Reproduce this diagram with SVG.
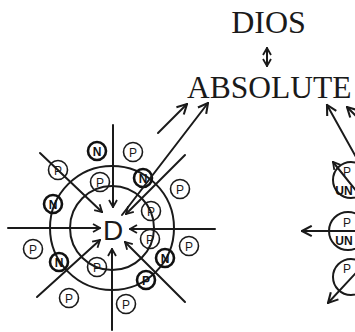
<svg xmlns="http://www.w3.org/2000/svg" width="355" height="332" viewBox="0 0 355 332">
<style>
.ln{stroke:#1a1a1a;stroke-width:2;fill:none;stroke-linecap:round}
.ring{stroke:#1a1a1a;stroke-width:2;fill:none}
.sc{stroke:#1a1a1a;stroke-width:1.6;fill:none}
.dk{stroke:#111;stroke-width:2.6;fill:none}
.t{font-family:"Liberation Sans",Arial,sans-serif;font-size:12px;fill:#1a1a1a;text-anchor:middle}
.tb{font-family:"Liberation Sans",Arial,sans-serif;font-size:12px;font-weight:bold;fill:#111;text-anchor:middle}
.title{font-family:"Liberation Serif","Times New Roman",serif;fill:#1a1a1a}
</style>
<defs>
<marker id="ah" viewBox="0 0 10 10" refX="9" refY="5" markerWidth="10" markerHeight="10" markerUnits="userSpaceOnUse" orient="auto-start-reverse">
<path d="M2,1 L9,5 L2,9" stroke="#1a1a1a" stroke-width="1.8" fill="none"/>
</marker>
<marker id="ahb" viewBox="0 0 10 10" refX="9" refY="5" markerWidth="13" markerHeight="13" markerUnits="userSpaceOnUse" orient="auto-start-reverse">
<path d="M1.5,1 L9,5 L1.5,9" stroke="#1a1a1a" stroke-width="1.6" fill="none"/>
</marker>
</defs>

<g id="dios"><text class="title" x="268.5" y="33" font-size="32" text-anchor="middle">DIOS</text></g>
<g id="absolute"><text class="title" x="187" y="98" font-size="31.5">ABSOLUTE</text></g>

<g id="left-figure">
<circle class="ring" cx="112" cy="228" r="62"/>
<circle class="ring" cx="112" cy="228" r="42"/>
<text x="113" y="240" font-family="Liberation Sans,Arial,sans-serif" font-size="28" fill="#1a1a1a" text-anchor="middle">D</text>
</g>

<g id="small-circles">
<g id="n1"><circle class="dk" cx="97" cy="151" r="9"/><text class="tb" x="97" y="155.5">N</text></g>
<g id="p2"><circle class="sc" cx="133" cy="152" r="9.5"/><text class="t" x="133" y="156.5">P</text></g>
<g id="p3"><circle class="sc" cx="58" cy="170" r="9.5"/><text class="t" x="58" y="174.5">P</text></g>
<g id="p4"><circle class="sc" cx="100" cy="182" r="9.5"/><text class="t" x="100" y="186.5">P</text></g>
<g id="n5"><circle class="dk" cx="143" cy="178" r="9"/><text class="tb" x="143" y="182.5">N</text></g>
<g id="p6"><circle class="sc" cx="180" cy="189" r="9.5"/><text class="t" x="180" y="193.5">P</text></g>
<g id="n7"><circle class="dk" cx="53" cy="204" r="9"/><text class="tb" x="53" y="208.5">N</text></g>
<g id="p8"><circle class="sc" cx="151" cy="211" r="9.5"/><text class="t" x="151" y="215.5">P</text></g>
<g id="p9"><circle class="sc" cx="33" cy="249" r="9.5"/><text class="t" x="33" y="253.5">P</text></g>
<g id="p10"><circle class="sc" cx="150" cy="239" r="9.5"/><text class="t" x="150" y="243.5">P</text></g>
<g id="p11"><circle class="sc" cx="189" cy="246" r="9.5"/><text class="t" x="189" y="250.5">P</text></g>
<g id="n12"><circle class="dk" cx="165" cy="258" r="9"/><text class="tb" x="165" y="262.5">N</text></g>
<g id="n13"><circle class="dk" cx="59" cy="262" r="9"/><text class="tb" x="59" y="266.5">N</text></g>
<g id="p14"><circle class="sc" cx="97" cy="267" r="9.5"/><text class="t" x="97" y="271.5">P</text></g>
<g id="p15"><circle class="dk" cx="146" cy="280" r="9"/><text class="tb" x="146" y="284.5">P</text></g>
<g id="p16"><circle class="sc" cx="69" cy="298" r="9.5"/><text class="t" x="69" y="302.5">P</text></g>
<g id="p17"><circle class="sc" cx="126" cy="304" r="9.5"/><text class="t" x="126" y="308.5">P</text></g>
</g>

<g id="right-figure">
<g id="rc1"><circle class="ring" cx="351" cy="180" r="18"/><text class="t" x="347" y="176">P</text><text class="tb" x="344" y="195" font-size="10">UN</text></g>
<g id="rc2"><circle class="ring" cx="348" cy="231" r="19"/><text class="t" x="347" y="227">P</text><text class="tb" x="344" y="245" font-size="10">UN</text></g>
<g id="rc3"><circle class="ring" cx="351" cy="277" r="18"/><text class="t" x="347" y="273">P</text></g>
</g>

<g id="connectors">
<line class="ln" x1="267" y1="48" x2="267" y2="66" marker-start="url(#ah)" marker-end="url(#ah)"/>
<line class="ln" x1="113" y1="125" x2="113" y2="207" marker-end="url(#ah)"/>
<line class="ln" x1="112" y1="330" x2="112" y2="249" marker-end="url(#ah)"/>
<line class="ln" x1="8" y1="228" x2="100" y2="228" marker-end="url(#ah)"/>
<line class="ln" x1="215" y1="229" x2="130" y2="229" marker-end="url(#ah)"/>
<line class="ln" x1="40" y1="153" x2="102" y2="212" marker-end="url(#ah)"/>
<line class="ln" x1="37" y1="297" x2="100" y2="240" marker-end="url(#ah)"/>
<line class="ln" x1="185" y1="302" x2="125" y2="242" marker-end="url(#ah)"/>
<line class="ln" x1="185" y1="155" x2="126" y2="214" marker-end="url(#ah)"/>
<line class="ln" x1="122" y1="215" x2="208" y2="103" marker-end="url(#ahb)"/>
<line class="ln" x1="158" y1="133" x2="187" y2="104" marker-end="url(#ahb)"/>
<line class="ln" x1="356" y1="157" x2="327" y2="105" marker-end="url(#ahb)"/>
<line class="ln" x1="366" y1="126" x2="347" y2="107" marker-end="url(#ahb)"/>
<line class="ln" x1="362" y1="198" x2="333" y2="162" marker-end="url(#ah)"/>
<line class="ln" x1="360" y1="231" x2="302" y2="231" marker-end="url(#ahb)"/>
<line class="ln" x1="366" y1="262" x2="328" y2="303" marker-end="url(#ahb)"/>
</g>
</svg>
